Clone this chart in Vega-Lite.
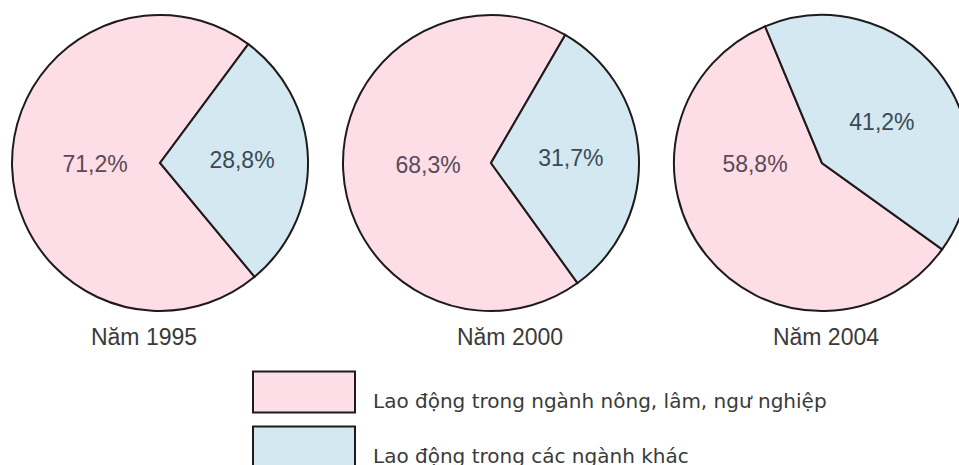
{
  "$schema": "https://vega.github.io/schema/vega-lite/v6.json",
  "width": 959,
  "height": 465,
  "padding": 0,
  "autosize": {"type": "none"},
  "background": "#ffffff",
  "config": {"view": {"stroke": null}},
  "data": {
    "values": [
      {"year": "1995", "nam": "Năm 1995", "category": "Lao động trong ngành nông, lâm, ngư nghiệp", "value": 71.2, "label": "71,2%"},
      {"year": "1995", "nam": "Năm 1995", "category": "Lao động trong các ngành khác", "value": 28.8, "label": "28,8%"},
      {"year": "2000", "nam": "Năm 2000", "category": "Lao động trong ngành nông, lâm, ngư nghiệp", "value": 68.3, "label": "68,3%"},
      {"year": "2000", "nam": "Năm 2000", "category": "Lao động trong các ngành khác", "value": 31.7, "label": "31,7%"},
      {"year": "2004", "nam": "Năm 2004", "category": "Lao động trong ngành nông, lâm, ngư nghiệp", "value": 58.8, "label": "58,8%"},
      {"year": "2004", "nam": "Năm 2004", "category": "Lao động trong các ngành khác", "value": 41.2, "label": "41,2%"}
    ]
  },
  "encoding": {
    "x": {"field": "year", "type": "ordinal", "scale": {"type": "point", "padding": 0.4488, "align": 0.5387}, "axis": null},
    "y": {"datum": "pie", "type": "nominal", "scale": {"type": "point", "padding": 0.5, "align": 0.3505}, "axis": null}
  },
  "resolve": {"scale": {"theta": "independent"}},
  "layer": [
    {
      "transform": [{"filter": "datum.year === '1995'"}],
      "layer": [
        {
          "mark": {"type": "arc", "outerRadius": 148, "stroke": "#1f1a1c", "strokeWidth": 2},
          "encoding": {
            "theta": {"field": "value", "type": "quantitative", "stack": true, "scale": {"domain": [0, 100], "range": [0.6388, 6.922]}},
            "order": {"field": "category", "type": "ordinal", "sort": "ascending"},
            "color": {"field": "category", "type": "nominal",
              "scale": {"domain": ["Lao động trong ngành nông, lâm, ngư nghiệp", "Lao động trong các ngành khác"], "range": ["#fddde6", "#d4e8f2"]},
              "legend": {"orient": "none", "legendX": 252, "legendY": 370, "title": null, "direction": "vertical", "padding": 0,
                "symbolType": "M-1,-0.402H1V0.402H-1Z", "symbolSize": 10404, "symbolStrokeColor": "#1f1a1c", "symbolStrokeWidth": 2,
                "clipHeight": 44, "rowPadding": 11, "labelOffset": 17, "labelBaseline": "top", "labelLimit": 700,
                "labelFont": "DejaVu Sans", "labelFontSize": 20, "labelColor": "#3a3a3a"}}
          }
        },
        {
          "mark": {"type": "text", "radius": 82, "font": "Liberation Sans", "fontSize": 23, "fill": "#3a4a55"},
          "encoding": {
            "theta": {"field": "value", "type": "quantitative", "stack": true, "scale": {"domain": [0, 100], "range": [0.6388, 6.922]}},
            "order": {"field": "category", "type": "ordinal", "sort": "ascending"},
            "detail": {"field": "category", "type": "nominal"},
            "text": {"condition": {"test": "datum.category === 'Lao động trong các ngành khác'", "field": "label"}, "value": ""}
          }
        },
        {
          "mark": {"type": "text", "radius": 65, "font": "Liberation Sans", "fontSize": 23, "fill": "#5b4a55"},
          "encoding": {
            "theta": {"field": "value", "type": "quantitative", "stack": true, "scale": {"domain": [0, 100], "range": [0.6388, 6.922]}},
            "order": {"field": "category", "type": "ordinal", "sort": "ascending"},
            "detail": {"field": "category", "type": "nominal"},
            "text": {"condition": {"test": "datum.category === 'Lao động trong ngành nông, lâm, ngư nghiệp'", "field": "label"}, "value": ""}
          }
        },
        {
          "transform": [{"filter": "datum.category === 'Lao động trong ngành nông, lâm, ngư nghiệp'"}],
          "mark": {"type": "text", "dx": -16, "dy": 175, "font": "Liberation Sans", "fontSize": 23, "fill": "#3a3a3a"},
          "encoding": {"text": {"field": "nam"}}
        }
      ]
    },
    {
      "transform": [{"filter": "datum.year === '2000'"}],
      "layer": [
        {
          "mark": {"type": "arc", "outerRadius": 148, "stroke": "#1f1a1c", "strokeWidth": 2},
          "encoding": {
            "theta": {"field": "value", "type": "quantitative", "stack": true, "scale": {"domain": [0, 100], "range": [0.5253, 6.8085]}},
            "order": {"field": "category", "type": "ordinal", "sort": "ascending"},
            "color": {"field": "category", "type": "nominal",
              "scale": {"domain": ["Lao động trong ngành nông, lâm, ngư nghiệp", "Lao động trong các ngành khác"], "range": ["#fddde6", "#d4e8f2"]}}
          }
        },
        {
          "mark": {"type": "text", "radius": 80, "font": "Liberation Sans", "fontSize": 23, "fill": "#3a4a55"},
          "encoding": {
            "theta": {"field": "value", "type": "quantitative", "stack": true, "scale": {"domain": [0, 100], "range": [0.5253, 6.8085]}},
            "order": {"field": "category", "type": "ordinal", "sort": "ascending"},
            "detail": {"field": "category", "type": "nominal"},
            "text": {"condition": {"test": "datum.category === 'Lao động trong các ngành khác'", "field": "label"}, "value": ""}
          }
        },
        {
          "mark": {"type": "text", "radius": 63, "font": "Liberation Sans", "fontSize": 23, "fill": "#5b4a55"},
          "encoding": {
            "theta": {"field": "value", "type": "quantitative", "stack": true, "scale": {"domain": [0, 100], "range": [0.5253, 6.8085]}},
            "order": {"field": "category", "type": "ordinal", "sort": "ascending"},
            "detail": {"field": "category", "type": "nominal"},
            "text": {"condition": {"test": "datum.category === 'Lao động trong ngành nông, lâm, ngư nghiệp'", "field": "label"}, "value": ""}
          }
        },
        {
          "transform": [{"filter": "datum.category === 'Lao động trong ngành nông, lâm, ngư nghiệp'"}],
          "mark": {"type": "text", "dx": 19, "dy": 175, "font": "Liberation Sans", "fontSize": 23, "fill": "#3a3a3a"},
          "encoding": {"text": {"field": "nam"}}
        }
      ]
    },
    {
      "transform": [{"filter": "datum.year === '2004'"}],
      "resolve": {"scale": {"theta": "independent"}},
      "layer": [
        {
          "mark": {"type": "arc", "outerRadius": 148, "stroke": "#1f1a1c", "strokeWidth": 2},
          "encoding": {
            "theta": {"field": "value", "type": "quantitative", "stack": true, "scale": {"domain": [0, 100], "range": [-0.3944, 5.8888]}},
            "order": {"field": "category", "type": "ordinal", "sort": "ascending"},
            "color": {"field": "category", "type": "nominal",
              "scale": {"domain": ["Lao động trong ngành nông, lâm, ngư nghiệp", "Lao động trong các ngành khác"], "range": ["#fddde6", "#d4e8f2"]}}
          }
        },
        {
          "mark": {"type": "text", "radius": 72, "font": "Liberation Sans", "fontSize": 23, "fill": "#3a4a55"},
          "encoding": {
            "theta": {"field": "value", "type": "quantitative", "stack": true, "scale": {"domain": [0, 100], "range": [-0.31, 5.9732]}},
            "order": {"field": "category", "type": "ordinal", "sort": "ascending"},
            "detail": {"field": "category", "type": "nominal"},
            "text": {"condition": {"test": "datum.category === 'Lao động trong các ngành khác'", "field": "label"}, "value": ""}
          }
        },
        {
          "mark": {"type": "text", "radius": 67, "font": "Liberation Sans", "fontSize": 23, "fill": "#5b4a55"},
          "encoding": {
            "theta": {"field": "value", "type": "quantitative", "stack": true, "scale": {"domain": [0, 100], "range": [0.2468, 6.53]}},
            "order": {"field": "category", "type": "ordinal", "sort": "ascending"},
            "detail": {"field": "category", "type": "nominal"},
            "text": {"condition": {"test": "datum.category === 'Lao động trong ngành nông, lâm, ngư nghiệp'", "field": "label"}, "value": ""}
          }
        },
        {
          "transform": [{"filter": "datum.category === 'Lao động trong ngành nông, lâm, ngư nghiệp'"}],
          "mark": {"type": "text", "dx": 4, "dy": 175, "font": "Liberation Sans", "fontSize": 23, "fill": "#3a3a3a"},
          "encoding": {"text": {"field": "nam"}}
        }
      ]
    }
  ]
}
